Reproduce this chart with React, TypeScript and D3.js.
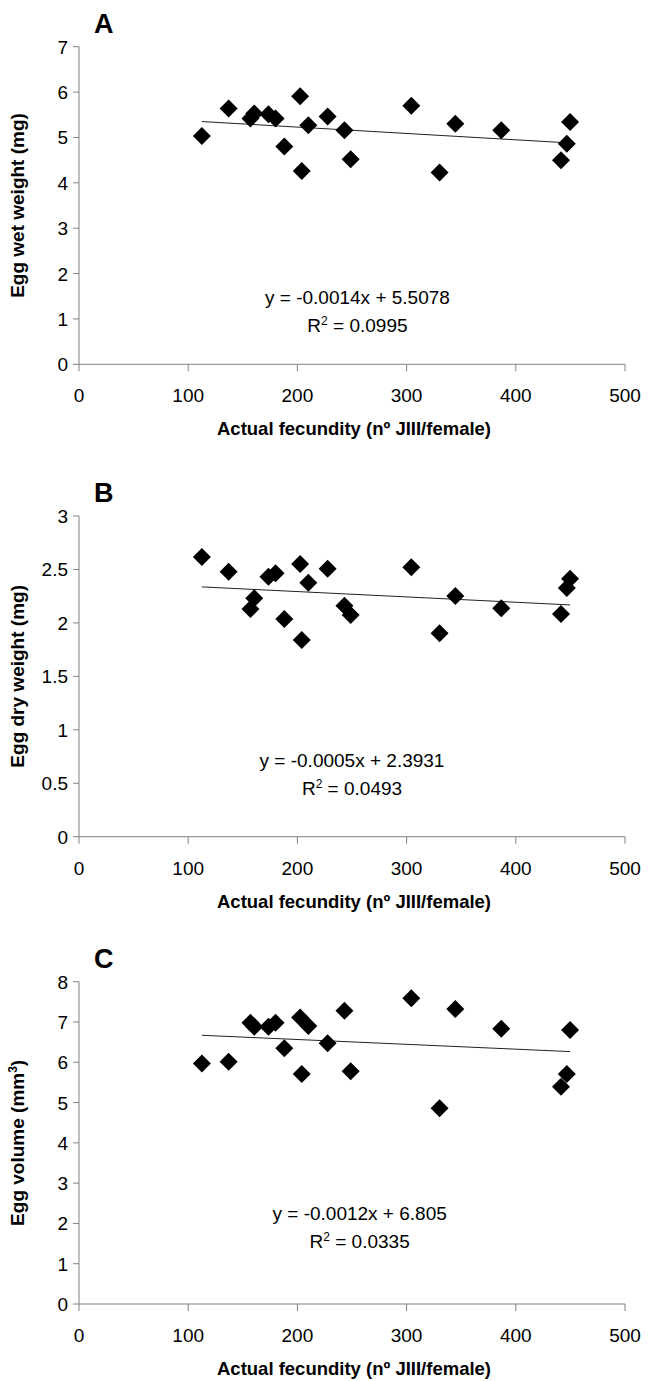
import React from "react";
import * as d3 from "d3";

// Shared x values: actual fecundity (nº JIII/female)
const fecundity = [112.5, 137, 157, 160.5, 173.5, 180, 188, 202.5, 204, 210, 227.7, 243.1, 248.8, 304.3, 330.2, 344.6, 386.7, 441.4, 446.7, 449.7];
// Panel A: egg wet weight (mg)
const wetWeight = [5.03, 5.64, 5.42, 5.53, 5.51, 5.42, 4.80, 5.91, 4.26, 5.27, 5.46, 5.16, 4.52, 5.70, 4.23, 5.30, 5.16, 4.50, 4.86, 5.34];
// Panel B: egg dry weight (mg)
const dryWeight = [2.616, 2.479, 2.13, 2.23, 2.432, 2.464, 2.036, 2.551, 1.84, 2.376, 2.507, 2.161, 2.074, 2.52, 1.903, 2.252, 2.136, 2.083, 2.326, 2.414];
// Panel C: egg volume (mm3)
const eggVolume = [5.97, 6.01, 6.98, 6.88, 6.88, 6.98, 6.35, 7.11, 5.71, 6.90, 6.47, 7.28, 5.78, 7.59, 4.86, 7.32, 6.83, 5.39, 5.71, 6.80];

const xTicks = [0, 100, 200, 300, 400, 500];
const wetTicks = [0, 1, 2, 3, 4, 5, 6, 7];
const dryTicks = [0, 0.5, 1, 1.5, 2, 2.5, 3];
const volTicks = [0, 1, 2, 3, 4, 5, 6, 7, 8];

const trendSlopes = [-0.0014, -0.0005, -0.0012];
const trendIntercepts = [5.5078, 2.3931, 6.805];
const equationTexts = ["y = -0.0014x + 5.5078", "y = -0.0005x + 2.3931", "y = -0.0012x + 6.805"];
const r2Texts = ["0.0995", "0.0493", "0.0335"];
const panelLetters = ["A", "B", "C"];

const FONT = "'Liberation Sans', Arial, Helvetica, sans-serif";
const AXIS = "#808080";

type PanelCfg = {
  letter: string;
  values: number[];
  ticks: number[];
  yMax: number;
  top: number;
  bottom: number;
  yLabel: React.ReactNode;
  slope: number;
  intercept: number;
  eq: string;
  r2: string;
  eqX: number;
  eqY: number;
};

const panels: PanelCfg[] = [
  { letter: panelLetters[0], values: wetWeight, ticks: wetTicks, yMax: 7, top: 46.7, bottom: 364.3,
    yLabel: <>Egg wet weight (mg)</>, slope: trendSlopes[0], intercept: trendIntercepts[0],
    eq: equationTexts[0], r2: r2Texts[0], eqX: 255, eqY: 296.7 },
  { letter: panelLetters[1], values: dryWeight, ticks: dryTicks, yMax: 3, top: 516, bottom: 836.7,
    yLabel: <>Egg dry weight (mg)</>, slope: trendSlopes[1], intercept: trendIntercepts[1],
    eq: equationTexts[1], r2: r2Texts[1], eqX: 250, eqY: 760 },
  { letter: panelLetters[2], values: eggVolume, ticks: volTicks, yMax: 8, top: 981.7, bottom: 1304,
    yLabel: <>Egg volume (mm<tspan baselineShift="super" fontSize="12">3</tspan>)</>, slope: trendSlopes[2], intercept: trendIntercepts[2],
    eq: equationTexts[2], r2: r2Texts[2], eqX: 257, eqY: 1213 },
];

const X0 = 79;
const X1 = 625;
const R = 9;
const diamond = `M0,${-R}L${R},0L0,${R}L${-R},0Z`;

function Panel({ p }: { p: PanelCfg }) {
  const x = d3.scaleLinear().domain([0, 500]).range([X0, X1]);
  const y = d3.scaleLinear().domain([0, p.yMax]).range([p.bottom, p.top]);
  const xMin = d3.min(fecundity)!;
  const xMax = d3.max(fecundity)!;
  const line = d3.line<number>().x((d) => x(d)).y((d) => y(p.slope * d + p.intercept));
  const cy = (p.top + p.bottom) / 2;
  return (
    <g fontFamily={FONT}>
      <text x={X0 + 15} y={p.top - 14} fontSize={27} fontWeight="bold" fill="#000">{p.letter}</text>
      {/* y axis */}
      <line x1={X0} x2={X0} y1={p.top} y2={p.bottom} stroke={AXIS} strokeWidth={1} />
      {p.ticks.map((t) => (
        <g key={"y" + t}>
          <line x1={X0 - 6} x2={X0} y1={y(t)} y2={y(t)} stroke={AXIS} strokeWidth={1} />
          <text x={X0 - 11} y={y(t) + 7} textAnchor="end" fontSize={19} fill="#000">{String(t)}</text>
        </g>
      ))}
      {/* x axis */}
      <line x1={X0} x2={X1} y1={p.bottom} y2={p.bottom} stroke={AXIS} strokeWidth={1} />
      {xTicks.map((t) => (
        <g key={"x" + t}>
          <line x1={x(t)} x2={x(t)} y1={p.bottom} y2={p.bottom + 7} stroke={AXIS} strokeWidth={1} />
          <text x={x(t)} y={p.bottom + 38} textAnchor="middle" fontSize={19} fill="#000">{t}</text>
        </g>
      ))}
      <text x={354} y={p.bottom + 71} textAnchor="middle" fontSize={18.5} fontWeight="bold" fill="#000">
        Actual fecundity (nº JIII/female)
      </text>
      <text transform={`translate(24,${cy}) rotate(-90)`} textAnchor="middle" fontSize={19} fontWeight="bold" fill="#000">
        {p.yLabel}
      </text>
      {/* trend line */}
      <path d={line([xMin, xMax]) || ""} stroke="#222" strokeWidth={1} fill="none" />
      {/* points */}
      {fecundity.map((fx, i) => (
        <path key={i} d={diamond} transform={`translate(${x(fx)},${y(p.values[i])})`} fill="#000" />
      ))}
      {/* equation */}
      <text x={x(p.eqX)} y={p.eqY + 7} textAnchor="middle" fontSize={19} fill="#000">{p.eq}</text>
      <text x={x(p.eqX)} y={p.eqY + 35} textAnchor="middle" fontSize={19} fill="#000">
        R<tspan baselineShift="super" fontSize="12">2</tspan> = {p.r2}
      </text>
    </g>
  );
}

export default function App() {
  return (
    <svg width={649} height={1381} style={{ position: "absolute", left: 0, top: 0, display: "block", background: "#fff" }}>
      <rect width={649} height={1381} fill="#fff" />
      {panels.map((p) => (
        <Panel key={p.letter} p={p} />
      ))}
    </svg>
  );
}
